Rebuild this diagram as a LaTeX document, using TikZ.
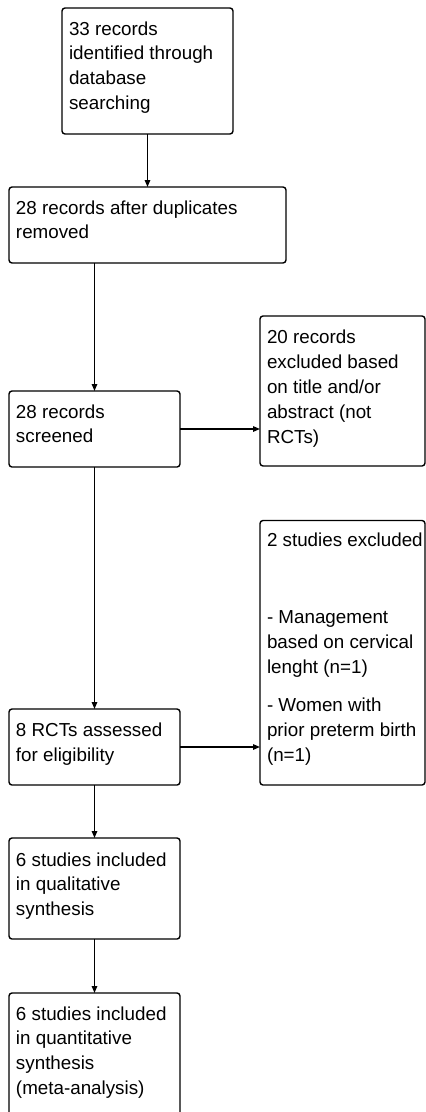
\documentclass[tikz,border=0pt]{standalone}
\usepackage{fontspec}
\setmainfont{Liberation Sans}
\usetikzlibrary{arrows.meta}
\newcommand{\bt}[4]{\parbox[c][#2pt][t]{#1pt}{\fontsize{18.8}{24.9}\selectfont\leftskip=7pt\rightskip=0pt plus 1fil\parfillskip=0pt plus 1fil\rule{0pt}{#3pt}#4}}
\tikzset{
  bx/.style={draw, rounded corners=3pt, inner sep=0pt, outer sep=0pt, line width=1.4pt, anchor=north west},
  arr/.style={draw, line width=1.4pt, -{Triangle[length=7pt,width=5.5pt]}}
}
\begin{document}
\begin{tikzpicture}[x=1pt,y=-1pt]
\useasboundingbox (0,0) rectangle (426,1112);
\clip (0,0) rectangle (426,1112);
\fill[white] (0,0) rectangle (426,1112);
\node[bx] (b1) at (62,8) {\bt{171}{126}{27}{33 records\\identified through\\database\\searching}};
\node[bx] (b2) at (9,187) {\bt{277}{76}{27}{28 records after duplicates\\removed}};
\node[bx] (b3) at (9,391) {\bt{171}{76}{27}{28 records\\screened}};
\node[bx] (b4) at (260,316) {\bt{165}{150}{27.5}{20 records\\excluded based\\on title and/or\\abstract (not\\RCTs)}};
\node[bx] (b5) at (260,520.5) {\bt{165}{264.5}{25.5}{2 studies excluded\\[52.6pt]- Management\\based on cervical\\lenght (n=1)\\[13.1pt]- Women with\\prior preterm birth\\(n=1)}};
\node[bx] (b6) at (9,709) {\bt{171}{76}{27.5}{8 RCTs assessed\\for eligibility}};
\node[bx] (b7) at (9,838) {\bt{171}{101}{28}{6 studies included\\in qualitative\\synthesis}};
\node[bx] (b8) at (9,993) {\bt{171}{135}{27}{6 studies included\\in quantitative\\synthesis\\(meta-analysis)}};
\draw[arr] (b1.south) -- (b2.north -| b1.south);
\draw[arr] (b3.north |- b2.south) -- (b3.north);
\draw[arr] (b3.east) -- (b3.east -| b4.west);
\draw[arr] (b3.south) -- (b6.north);
\draw[arr] (b6.east) -- (b6.east -| b5.west);
\draw[arr] (b6.south) -- (b7.north);
\draw[arr] (b7.south) -- (b8.north);
\end{tikzpicture}
\end{document}
